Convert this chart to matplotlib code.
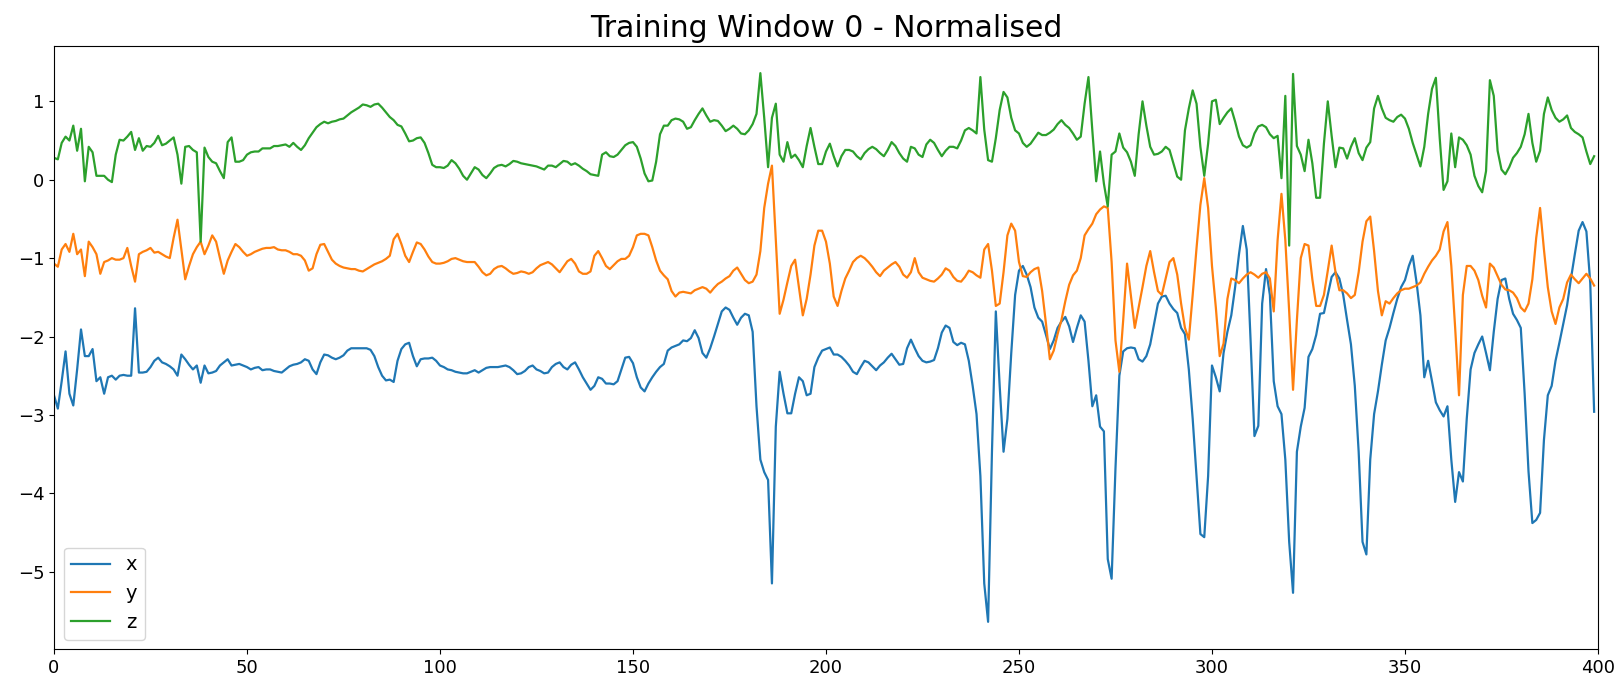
import matplotlib
matplotlib.use("Agg")
import matplotlib.pyplot as plt

# accelerometer axes for training window 0, normalised, one sample per step
x_vals = [
    -2.75, -2.92, -2.57, -2.19, -2.73, -2.88, -2.42, -1.91, -2.25, -2.25,
    -2.16, -2.57, -2.52, -2.73, -2.52, -2.50, -2.55, -2.50, -2.49, -2.50,
    -2.50, -1.64, -2.46, -2.46, -2.45, -2.39, -2.31, -2.27, -2.33, -2.35,
    -2.38, -2.42, -2.50, -2.23, -2.29, -2.36, -2.42, -2.37, -2.59, -2.37,
    -2.47, -2.46, -2.44, -2.37, -2.33, -2.29, -2.37, -2.36, -2.35, -2.37,
    -2.39, -2.42, -2.40, -2.39, -2.43, -2.42, -2.42, -2.44, -2.45, -2.46,
    -2.42, -2.38, -2.36, -2.35, -2.33, -2.29, -2.31, -2.42, -2.48, -2.33,
    -2.23, -2.24, -2.27, -2.29, -2.27, -2.24, -2.18, -2.15, -2.15, -2.15,
    -2.15, -2.15, -2.17, -2.25, -2.39, -2.50, -2.56, -2.55, -2.58, -2.31,
    -2.16, -2.10, -2.08, -2.25, -2.38, -2.29, -2.28, -2.28, -2.27, -2.31,
    -2.37, -2.39, -2.42, -2.43, -2.45, -2.46, -2.47, -2.47, -2.45, -2.43,
    -2.46, -2.43, -2.40, -2.39, -2.39, -2.39, -2.38, -2.37, -2.39, -2.43,
    -2.48, -2.47, -2.44, -2.39, -2.37, -2.42, -2.44, -2.47, -2.46, -2.39,
    -2.35, -2.33, -2.39, -2.42, -2.36, -2.33, -2.42, -2.52, -2.60, -2.68,
    -2.63, -2.52, -2.54, -2.60, -2.60, -2.61, -2.57, -2.42, -2.27, -2.26,
    -2.34, -2.52, -2.65, -2.70, -2.60, -2.52, -2.45, -2.39, -2.35, -2.18,
    -2.14, -2.12, -2.10, -2.05, -2.06, -2.02, -1.92, -2.02, -2.21, -2.27,
    -2.15, -2.00, -1.84, -1.68, -1.63, -1.66, -1.76, -1.85, -1.76, -1.71,
    -1.73, -1.94, -2.89, -3.57, -3.73, -3.83, -5.15, -3.15, -2.45, -2.73,
    -2.98, -2.98, -2.73, -2.52, -2.57, -2.75, -2.73, -2.39, -2.27, -2.18,
    -2.16, -2.14, -2.23, -2.23, -2.26, -2.31, -2.37, -2.45, -2.48, -2.39,
    -2.31, -2.33, -2.38, -2.43, -2.37, -2.33, -2.27, -2.22, -2.29, -2.36,
    -2.35, -2.15, -2.04, -2.15, -2.25, -2.31, -2.33, -2.32, -2.30, -2.15,
    -1.95, -1.86, -1.89, -2.07, -2.11, -2.08, -2.10, -2.31, -2.63, -2.99,
    -3.78, -5.15, -5.64, -3.47, -1.68, -2.63, -3.47, -3.05, -2.21, -1.47,
    -1.16, -1.10, -1.21, -1.37, -1.63, -1.76, -1.81, -1.98, -2.16, -2.05,
    -1.89, -1.81, -1.75, -1.87, -2.07, -1.89, -1.73, -1.81, -2.31, -2.89,
    -2.75, -3.15, -3.21, -4.84, -5.09, -3.68, -2.50, -2.19, -2.15, -2.14,
    -2.15, -2.29, -2.32, -2.25, -2.10, -1.84, -1.58, -1.49, -1.48, -1.58,
    -1.65, -1.70, -1.89, -1.97, -2.42, -3.05, -3.78, -4.52, -4.56, -3.78,
    -2.37, -2.52, -2.70, -2.21, -1.94, -1.73, -1.37, -0.95, -0.59, -0.89,
    -2.05, -3.27, -3.14, -1.58, -1.14, -1.47, -2.57, -2.89, -2.99, -3.57,
    -4.62, -5.27, -3.47, -3.15, -2.91, -2.26, -2.16, -1.98, -1.71, -1.70,
    -1.47, -1.24, -1.18, -1.26, -1.47, -1.79, -2.10, -2.63, -3.47, -4.62,
    -4.78, -3.57, -2.99, -2.70, -2.36, -2.05, -1.89, -1.70, -1.52, -1.37,
    -1.28, -1.10, -0.97, -1.31, -1.73, -2.52, -2.31, -2.57, -2.84, -2.94,
    -3.02, -2.89, -3.57, -4.11, -3.73, -3.85, -3.05, -2.42, -2.21, -2.10,
    -2.00, -2.21, -2.43, -1.94, -1.52, -1.28, -1.26, -1.52, -1.71, -1.79,
    -1.89, -2.73, -3.72, -4.38, -4.34, -4.25, -3.32, -2.75, -2.63, -2.31,
    -2.08, -1.84, -1.60, -1.26, -0.95, -0.65, -0.54, -0.66, -1.32, -2.96,
]

y_vals = [
    -1.07, -1.11, -0.89, -0.82, -0.92, -0.69, -0.95, -0.89, -1.23, -0.79,
    -0.86, -0.95, -1.20, -1.05, -1.03, -1.00, -1.02, -1.02, -1.00, -0.87,
    -1.10, -1.30, -0.95, -0.92, -0.90, -0.87, -0.93, -0.92, -0.95, -0.98,
    -1.00, -0.74, -0.51, -0.89, -1.27, -1.10, -0.95, -0.86, -0.79, -0.95,
    -0.84, -0.71, -0.79, -1.00, -1.20, -1.03, -0.92, -0.82, -0.86, -0.92,
    -0.97, -0.95, -0.92, -0.90, -0.88, -0.87, -0.87, -0.86, -0.89, -0.90,
    -0.90, -0.92, -0.95, -0.95, -0.97, -1.03, -1.16, -1.13, -0.95, -0.83,
    -0.82, -0.92, -1.02, -1.07, -1.10, -1.12, -1.13, -1.14, -1.14, -1.16,
    -1.17, -1.14, -1.11, -1.08, -1.06, -1.04, -1.01, -0.97, -0.76, -0.69,
    -0.82, -0.97, -1.05, -0.92, -0.80, -0.82, -0.89, -0.98, -1.05, -1.07,
    -1.07, -1.06, -1.04, -1.01, -1.00, -1.02, -1.04, -1.05, -1.05, -1.05,
    -1.11, -1.18, -1.22, -1.20, -1.14, -1.11, -1.10, -1.13, -1.17, -1.20,
    -1.19, -1.17, -1.18, -1.20, -1.18, -1.13, -1.09, -1.07, -1.05, -1.08,
    -1.13, -1.18, -1.11, -1.04, -1.01, -1.07, -1.17, -1.20, -1.20, -1.17,
    -0.97, -0.91, -1.00, -1.10, -1.14, -1.09, -1.04, -1.01, -1.01, -0.97,
    -0.86, -0.71, -0.69, -0.69, -0.71, -0.86, -1.03, -1.16, -1.22, -1.27,
    -1.42, -1.49, -1.44, -1.43, -1.44, -1.45, -1.41, -1.39, -1.37, -1.39,
    -1.44, -1.38, -1.33, -1.30, -1.26, -1.23, -1.16, -1.12, -1.20, -1.28,
    -1.32, -1.30, -1.21, -0.91, -0.36, -0.05, 0.18, -0.77, -1.71, -1.53,
    -1.31, -1.10, -1.02, -1.37, -1.73, -1.52, -1.21, -0.84, -0.65, -0.65,
    -0.79, -1.07, -1.49, -1.61, -1.42, -1.26, -1.16, -1.05, -1.00, -0.97,
    -1.00, -1.05, -1.11, -1.18, -1.23, -1.16, -1.12, -1.08, -1.05, -1.11,
    -1.21, -1.25, -1.18, -1.00, -1.18, -1.25, -1.27, -1.29, -1.30, -1.26,
    -1.21, -1.13, -1.16, -1.24, -1.29, -1.30, -1.24, -1.16, -1.18, -1.22,
    -1.25, -0.89, -0.82, -1.16, -1.61, -1.58, -1.18, -0.71, -0.56, -0.65,
    -1.05, -1.23, -1.24, -1.18, -1.14, -1.12, -1.42, -1.84, -2.29, -2.18,
    -1.97, -1.79, -1.55, -1.34, -1.22, -1.16, -1.00, -0.71, -0.63, -0.56,
    -0.44, -0.38, -0.34, -0.36, -1.05, -2.05, -2.45, -1.79, -1.07, -1.48,
    -1.89, -1.63, -1.37, -1.10, -0.91, -1.18, -1.42, -1.47, -1.26, -1.05,
    -1.00, -1.21, -1.58, -1.89, -2.04, -1.47, -0.87, -0.32, 0.02, -0.36,
    -1.10, -1.63, -2.25, -2.09, -1.52, -1.26, -1.28, -1.32, -1.26, -1.21,
    -1.18, -1.21, -1.25, -1.20, -1.18, -1.26, -1.68, -0.77, -0.18, -0.77,
    -1.68, -2.68, -1.79, -1.00, -0.82, -0.84, -1.27, -1.61, -1.61, -1.47,
    -1.16, -0.84, -1.18, -1.41, -1.41, -1.45, -1.51, -1.47, -1.18, -0.79,
    -0.53, -0.47, -0.91, -1.42, -1.73, -1.55, -1.58, -1.51, -1.45, -1.41,
    -1.39, -1.39, -1.37, -1.35, -1.31, -1.20, -1.11, -1.03, -0.97, -0.89,
    -0.66, -0.54, -1.10, -1.89, -2.75, -1.47, -1.10, -1.10, -1.16, -1.28,
    -1.48, -1.63, -1.07, -1.12, -1.23, -1.34, -1.40, -1.41, -1.44, -1.51,
    -1.63, -1.68, -1.58, -1.27, -0.74, -0.36, -0.89, -1.37, -1.68, -1.84,
    -1.63, -1.52, -1.31, -1.21, -1.27, -1.32, -1.26, -1.20, -1.26, -1.35,
]

z_vals = [
    0.28, 0.26, 0.47, 0.55, 0.50, 0.69, 0.37, 0.65, -0.02, 0.42,
    0.35, 0.05, 0.05, 0.05, 0.00, -0.03, 0.32, 0.51, 0.50, 0.55,
    0.61, 0.38, 0.53, 0.37, 0.43, 0.42, 0.47, 0.56, 0.44, 0.46,
    0.50, 0.54, 0.32, -0.05, 0.42, 0.43, 0.38, 0.35, -0.79, 0.41,
    0.29, 0.23, 0.21, 0.11, 0.02, 0.48, 0.54, 0.23, 0.23, 0.25,
    0.32, 0.35, 0.36, 0.36, 0.40, 0.40, 0.40, 0.43, 0.43, 0.44,
    0.45, 0.42, 0.47, 0.42, 0.38, 0.44, 0.53, 0.60, 0.67, 0.71,
    0.74, 0.72, 0.74, 0.75, 0.77, 0.78, 0.82, 0.86, 0.89, 0.92,
    0.96, 0.95, 0.93, 0.96, 0.97, 0.92, 0.86, 0.80, 0.76, 0.70,
    0.68, 0.59, 0.49, 0.50, 0.53, 0.54, 0.47, 0.34, 0.19, 0.16,
    0.16, 0.15, 0.18, 0.25, 0.21, 0.14, 0.05, 0.00, 0.08, 0.16,
    0.13, 0.06, 0.02, 0.08, 0.15, 0.18, 0.19, 0.17, 0.20, 0.24,
    0.23, 0.21, 0.20, 0.19, 0.18, 0.17, 0.15, 0.13, 0.18, 0.18,
    0.16, 0.20, 0.24, 0.23, 0.19, 0.21, 0.18, 0.14, 0.11, 0.07,
    0.06, 0.05, 0.32, 0.35, 0.30, 0.29, 0.32, 0.38, 0.44, 0.47,
    0.48, 0.42, 0.27, 0.08, -0.02, -0.01, 0.23, 0.58, 0.69, 0.69,
    0.76, 0.78, 0.77, 0.74, 0.65, 0.67, 0.76, 0.84, 0.91, 0.82,
    0.74, 0.76, 0.75, 0.69, 0.62, 0.65, 0.69, 0.65, 0.59, 0.58,
    0.63, 0.71, 0.84, 1.36, 0.79, 0.16, 0.79, 0.97, 0.32, 0.23,
    0.48, 0.28, 0.32, 0.25, 0.16, 0.43, 0.66, 0.42, 0.20, 0.20,
    0.36, 0.46, 0.30, 0.17, 0.30, 0.38, 0.38, 0.36, 0.30, 0.26,
    0.34, 0.39, 0.42, 0.39, 0.34, 0.30, 0.38, 0.48, 0.43, 0.34,
    0.27, 0.23, 0.42, 0.40, 0.32, 0.29, 0.45, 0.51, 0.47, 0.38,
    0.30, 0.37, 0.42, 0.42, 0.40, 0.50, 0.63, 0.66, 0.63, 0.59,
    1.31, 0.64, 0.25, 0.23, 0.53, 0.89, 1.12, 1.05, 0.79, 0.63,
    0.59, 0.47, 0.42, 0.46, 0.53, 0.60, 0.57, 0.57, 0.60, 0.64,
    0.71, 0.76, 0.70, 0.66, 0.59, 0.51, 0.55, 0.97, 1.31, 0.63,
    -0.02, 0.36, -0.05, -0.34, 0.32, 0.36, 0.59, 0.41, 0.35, 0.23,
    0.05, 0.58, 1.00, 0.69, 0.42, 0.32, 0.33, 0.36, 0.42, 0.38,
    0.21, 0.04, 0.00, 0.63, 0.91, 1.14, 0.97, 0.42, 0.05, 0.46,
    1.00, 1.02, 0.71, 0.79, 0.86, 0.91, 0.74, 0.55, 0.44, 0.41,
    0.44, 0.59, 0.68, 0.70, 0.67, 0.58, 0.53, 0.56, 0.02, 1.07,
    -0.84, 1.35, 0.43, 0.32, 0.11, 0.51, 0.21, -0.23, -0.23, 0.46,
    1.00, 0.56, 0.16, 0.41, 0.40, 0.27, 0.42, 0.53, 0.34, 0.25,
    0.41, 0.48, 0.91, 1.07, 0.91, 0.79, 0.76, 0.74, 0.80, 0.83,
    0.78, 0.65, 0.47, 0.32, 0.17, 0.42, 0.84, 1.16, 1.30, 0.53,
    -0.13, -0.02, 0.59, 0.16, 0.54, 0.51, 0.44, 0.32, 0.05, -0.08,
    -0.16, 0.11, 1.27, 1.07, 0.37, 0.13, 0.07, 0.16, 0.28, 0.34,
    0.42, 0.58, 0.84, 0.47, 0.23, 0.37, 0.84, 1.05, 0.89, 0.79,
    0.74, 0.77, 0.82, 0.66, 0.61, 0.58, 0.54, 0.36, 0.20, 0.30,
]

labels = ["x", "y", "z"]

fig = plt.figure(figsize=(16.21, 6.82), dpi=100)
ax = fig.add_axes([0.0333, 0.048, 0.9525, 0.885])

for series, label in zip([x_vals, y_vals, z_vals], labels):
    ax.plot(range(len(series)), series, label=label, linewidth=1.6)

ax.set_xlim(0, 400)
ax.set_title("Training Window 0 - Normalised", fontsize=21.5)
ax.tick_params(labelsize=13)
ax.legend(loc="lower left", fontsize=14)

fig.savefig("out.png", dpi=100)
